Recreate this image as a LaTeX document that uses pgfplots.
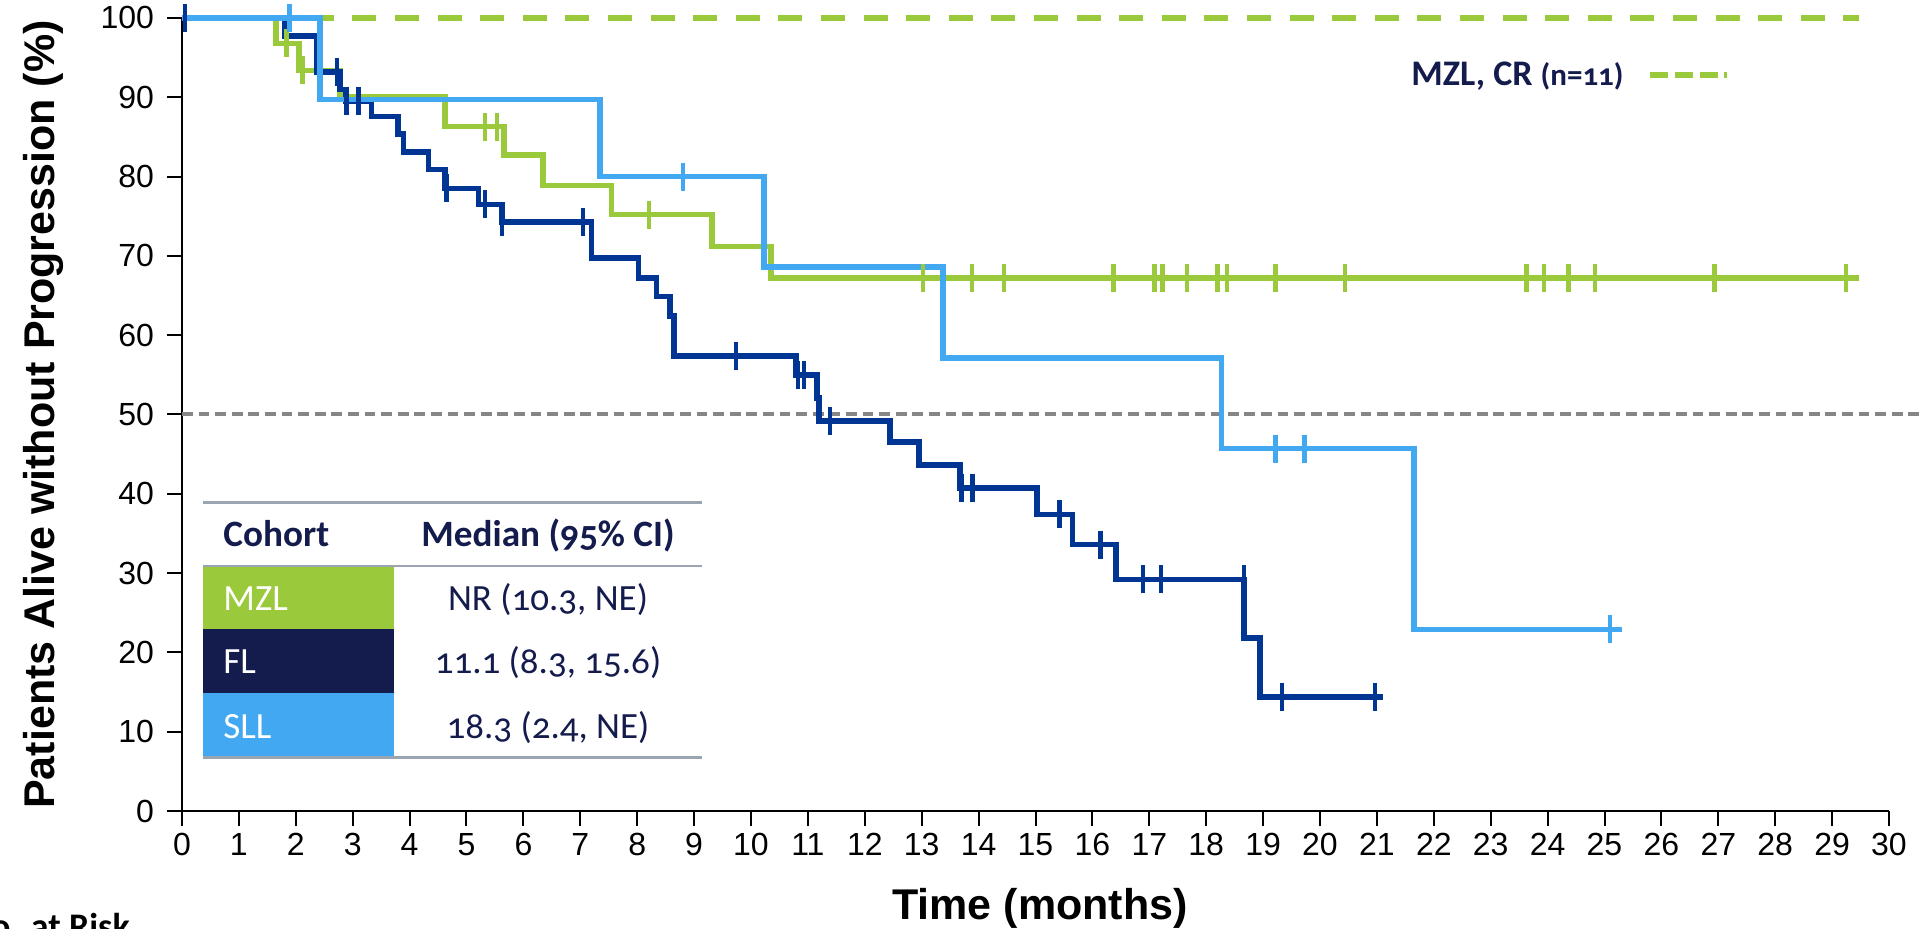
\documentclass[border=0pt]{standalone}
\usepackage{fontspec}
\setmainfont{Liberation Sans}
\newfontfamily\carlito[Numbers=OldStyle]{Carlito}
\usepackage{pgfplots}
\pgfplotsset{compat=1.18}
\definecolor{mzl}{RGB}{154,202,60}
\definecolor{fl}{RGB}{0,53,148}
\definecolor{sll}{RGB}{65,168,241}
\definecolor{navy}{RGB}{20,27,77}
\definecolor{rulec}{RGB}{154,165,177}
\definecolor{refgrey}{RGB}{134,134,134}

\begin{document}
\begin{tikzpicture}
\path[use as bounding box] (-91pt,-59pt) rectangle (871pt,405.5pt);
\begin{axis}[
  at={(0pt,0pt)}, anchor=south west,
  scale only axis, width=853.5pt, height=396.5pt,
  xmin=0, xmax=30, ymin=0, ymax=100,
  axis x line=bottom, axis y line=left,
  axis line style={-, line width=1pt, black},
  xtick={0,1,...,30}, ytick={0,10,...,100},
  tick align=outside, major tick length=7.5pt,
  tick style={black, line width=1pt},
  tick label style={font=\fontsize{16}{16}\selectfont},
  /pgf/number format/assume math mode=true,
  yticklabel style={xshift=-3pt},
  clip=false,
  xlabel={Time (months)},
  ylabel={Patients Alive without Progression (\%)},
  xlabel style={at={(axis description cs:0.5026,-0.1223)}, anchor=center, font=\bfseries\fontsize{21.5}{21.5}\selectfont},
  ylabel style={at={(axis description cs:-0.0814,0.5)}, anchor=center, font=\bfseries\fontsize{21.5}{21.5}\selectfont},
  legend plot pos=right,
  legend style={at={(axis cs:21.6,92.8)}, anchor=west, draw=none, fill=none,
    inner sep=0pt, nodes={inner sep=0pt, text=navy}, column sep=12pt,
    font=\carlito\bfseries\fontsize{18}{18}\selectfont},
]
% reference line at 50%
\addplot[refgrey, line width=2pt, dash pattern=on 5.4pt off 2.9pt, forget plot]
  coordinates {(0,50) (30.61,50)};
% MZL, CR dashed line
\addplot[mzl, line width=2.8pt, dash pattern=on 12pt off 9.3pt,
  legend image code/.code={\draw[mzl, line width=2.8pt, dash pattern=on 9pt off 3.3pt] (0pt,0pt) -- (38.5pt,0pt);}]
  coordinates {(0,100) (29.48,100)};
\addlegendentry{MZL, CR {\fontsize{15.5}{15.5}\selectfont(n=11)}}
% MZL
\addplot[mzl, line width=2.8pt, const plot, forget plot] coordinates {
  (0,100) (1.65,96.8) (2.06,93.4) (2.78,90.0) (4.62,86.3) (5.66,82.7)
  (6.34,78.9) (7.55,75.2) (9.31,71.2) (10.35,67.2) (29.48,67.2)};
\addplot[mzl, only marks, mark=|, mark size=7pt, mark options={line width=2.2pt}, forget plot] coordinates {
  (1.84,96.8) (2.12,93.4) (5.33,86.3) (5.54,86.3) (8.21,75.2)
  (13.02,67.2) (13.88,67.2) (14.45,67.2) (16.37,67.2) (17.09,67.2) (17.23,67.2)
  (17.66,67.2) (18.20,67.2) (18.37,67.2) (19.22,67.2) (20.44,67.2) (23.63,67.2)
  (23.94,67.2) (24.37,67.2) (24.83,67.2) (26.93,67.2) (29.24,67.2)};
% FL
\addplot[fl, line width=2.8pt, const plot, forget plot] coordinates {
  (0,100) (1.81,97.7) (2.37,93.2) (2.78,91.0) (2.88,89.5) (3.33,87.6)
  (3.80,85.4) (3.89,83.1) (4.33,80.9) (4.62,78.5) (5.21,76.5) (5.62,74.3)
  (7.20,69.7) (8.02,67.2) (8.34,64.9) (8.58,62.4) (8.65,57.4) (10.79,55.0)
  (11.16,52.1) (11.20,49.2) (12.44,46.5) (12.95,43.6) (13.67,40.7) (15.03,37.4)
  (15.65,33.6) (16.42,29.2) (18.66,21.8) (18.95,14.4) (21.10,14.4)};
\addplot[fl, only marks, mark=|, mark size=7pt, mark options={line width=2.2pt}, forget plot] coordinates {
  (0.05,100) (2.72,93.2) (2.89,89.5) (3.10,89.5) (4.65,78.5) (5.33,76.5)
  (5.62,74.3) (7.05,74.3) (9.74,57.4) (10.83,55.0) (10.93,55.0) (11.39,49.2)
  (13.70,40.7) (13.89,40.7) (15.42,37.4) (16.14,33.6) (16.89,29.2) (17.21,29.2)
  (18.66,29.2) (19.33,14.4) (20.97,14.4)};
% SLL
\addplot[sll, line width=2.8pt, const plot, forget plot] coordinates {
  (0,100) (2.43,89.7) (7.35,80.0) (10.23,68.6) (13.37,57.1) (18.27,45.7)
  (21.65,22.9) (25.30,22.9)};
\addplot[sll, only marks, mark=|, mark size=7pt, mark options={line width=2.2pt}, forget plot] coordinates {
  (1.89,100) (8.80,80.0) (19.22,45.7) (19.73,45.7) (25.10,22.9)};
\end{axis}
% median table
\fill[mzl] (10.5pt,90.85pt) rectangle (106pt,121.85pt);
\fill[navy] (10.5pt,58.85pt) rectangle (106pt,90.85pt);
\fill[sll] (10.5pt,27.15pt) rectangle (106pt,58.85pt);
\draw[rulec, line width=1.3pt] (10.5pt,154.15pt) -- (259.85pt,154.15pt);
\draw[rulec, line width=1.3pt] (10.5pt,122.5pt) -- (259.85pt,122.5pt);
\draw[rulec, line width=1.3pt] (10.5pt,26.65pt) -- (259.85pt,26.65pt);
\node[anchor=base west, inner sep=0pt, text=navy, font=\carlito\bfseries\fontsize{18.6}{18.6}\selectfont] at (20.5pt,132pt) {Cohort};
\node[anchor=base, inner sep=0pt, text=navy, font=\carlito\bfseries\fontsize{18.6}{18.6}\selectfont] at (183pt,132pt) {Median (95\% CI)};
\node[anchor=base west, inner sep=0pt, text=white, font=\carlito\fontsize{18.5}{18.5}\selectfont] at (20.5pt,100.2pt) {MZL};
\node[anchor=base west, inner sep=0pt, text=white, font=\carlito\fontsize{18.5}{18.5}\selectfont] at (20.5pt,68.5pt) {FL};
\node[anchor=base west, inner sep=0pt, text=white, font=\carlito\fontsize{18.5}{18.5}\selectfont] at (20.5pt,36.35pt) {SLL};
\node[anchor=base, inner sep=0pt, text=navy, font=\carlito\fontsize{18.5}{18.5}\selectfont] at (183pt,100.2pt) {NR (10.3, NE)};
\node[anchor=base, inner sep=0pt, text=navy, font=\carlito\fontsize{18.5}{18.5}\selectfont] at (183pt,68.5pt) {11.1 (8.3, 15.6)};
\node[anchor=base, inner sep=0pt, text=navy, font=\carlito\fontsize{18.5}{18.5}\selectfont] at (183pt,36.35pt) {18.3 (2.4, NE)};
% cut-off risk table heading (cut at the edge in the reference too)
\node[anchor=base west, inner sep=0pt, font=\carlito\bfseries\fontsize{18}{18}\selectfont] at (-107.5pt,-64pt) {No. at Risk};
\end{tikzpicture}
\end{document}
